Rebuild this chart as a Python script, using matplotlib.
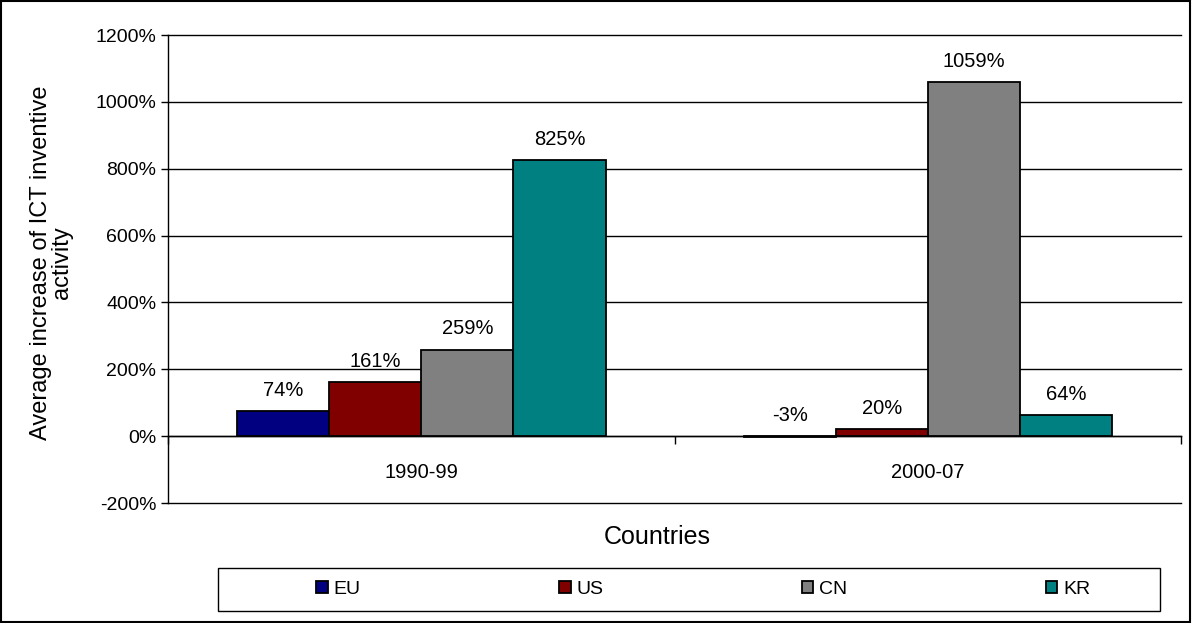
import numpy as np
import matplotlib.pyplot as plt
from matplotlib.patches import Rectangle
from matplotlib.ticker import FuncFormatter, FixedLocator

plt.rcParams['font.family'] = ['Liberation Sans', 'DejaVu Sans']

periods = ['1990-99', '2000-07']
countries = ['EU', 'US', 'CN', 'KR']
colors = ['#000080', '#800000', '#808080', '#008080']
# average increase in percent, per country, for each period
values = {
    'EU': [74, -3],
    'US': [161, 20],
    'CN': [259, 1059],
    'KR': [825, 64],
}

fig = plt.figure(figsize=(11.92, 6.23), dpi=100)
ax = fig.add_axes([0.141, 0.1926, 0.850, 0.7512])

x = np.arange(len(periods))
width = 1 / 5.5
for i, c in enumerate(countries):
    pos = x + (i - 1.5) * width
    bars = ax.bar(pos, values[c], width, color=colors[i], edgecolor='black',
                  linewidth=1.3, label=c, zorder=3)
    for b, v in zip(bars, values[c]):
        ax.annotate(f'{v}%', (b.get_x() + b.get_width() / 2, max(v, 0)),
                    xytext=(0, 8), textcoords='offset points',
                    ha='center', va='bottom', fontsize=14.5)

ax.set_xlim(-0.5, len(periods) - 0.5)
ax.set_ylim(-200, 1200)
ax.set_yticks(np.arange(-200, 1201, 200))
ax.yaxis.set_major_formatter(FuncFormatter(lambda v, p: f'{v:.0f}%'))
ax.grid(axis='y', color='black', linewidth=1, zorder=0)
for gl in ax.get_ygridlines():
    gl.set_clip_on(False)
ax.tick_params(axis='y', labelsize=14, length=5, width=1, direction='out')

for s in ['top', 'right']:
    ax.spines[s].set_visible(False)
ax.spines['left'].set_linewidth(1)
ax.spines['bottom'].set_position(('data', 0))
ax.spines['bottom'].set_linewidth(1)

ax.xaxis.set_major_locator(FixedLocator([-0.5, 0.5, 1.5]))
ax.xaxis.set_major_formatter(FuncFormatter(lambda v, p: ''))
ax.xaxis.set_minor_locator(FixedLocator(x))
ax.set_xticklabels(periods, minor=True)
ax.tick_params(axis='x', which='major', length=6, width=1, direction='out')
ax.tick_params(axis='x', which='minor', length=0, pad=19, labelsize=14.5)

fig.text(0.551, 0.138, 'Countries', ha='center', va='center', fontsize=18)
fig.text(0.043, 0.579, 'Average increase of ICT inventive\nactivity', rotation=90,
         ha='center', va='center', multialignment='center', fontsize=17,
         linespacing=0.95)

# legend box along the bottom
fig.patches.append(Rectangle((0.1829, 0.0193), 0.7903, 0.069, transform=fig.transFigure,
                             fill=False, edgecolor='black', linewidth=1))
fig.legend(loc='center', bbox_to_anchor=(0.59, 0.054), ncol=4, frameon=False,
           fontsize=14, handlelength=0.6, handleheight=0.6, handletextpad=0.3,
           columnspacing=10.2)

# outer frame
fig.patches.append(Rectangle((0.001, 0.002), 0.997, 0.996, transform=fig.transFigure,
                             fill=False, edgecolor='black', linewidth=1.5))

fig.savefig('out.png', dpi=100)
